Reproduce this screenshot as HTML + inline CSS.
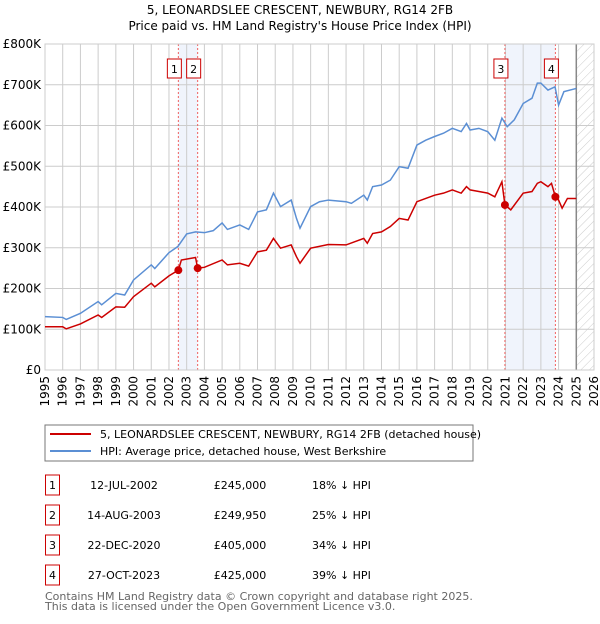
<!DOCTYPE html>
<html><head><meta charset="utf-8"><style>
body{margin:0;background:#fff;font-family:"DejaVu Sans","Liberation Sans",sans-serif;}
svg text{font-family:"DejaVu Sans","Liberation Sans",sans-serif;}
</style></head><body>
<svg id="c" width="600" height="620" xmlns="http://www.w3.org/2000/svg">
<defs><pattern id="hatch" width="6" height="6" patternUnits="userSpaceOnUse" patternTransform="rotate(45)"><line x1="0" y1="0" x2="0" y2="6" stroke="#ccc" stroke-width="1"/></pattern></defs>
<text x="300" y="14" text-anchor="middle" font-size="12">5, LEONARDSLEE CRESCENT, NEWBURY, RG14 2FB</text>
<text x="300" y="30" text-anchor="middle" font-size="12">Price paid vs. HM Land Registry's House Price Index (HPI)</text>
<g id="grid"></g><g id="marks"></g>
<g>
<rect x="45" y="425" width="428" height="36" fill="#fff" stroke="#777"/>
<line x1="50" y1="434" x2="91" y2="434" stroke="#cc0000" stroke-width="2"/>
<text x="100" y="438" font-size="11">5, LEONARDSLEE CRESCENT, NEWBURY, RG14 2FB (detached house)</text>
<line x1="50" y1="451" x2="91" y2="451" stroke="#5b8fd4" stroke-width="2"/>
<text x="100" y="455" font-size="11">HPI: Average price, detached house, West Berkshire</text>
</g>
<g id="table" font-size="11"></g>
<text x="45" y="600" font-size="11" fill="#666">Contains HM Land Registry data © Crown copyright and database right 2025.</text>
<text x="45" y="610" font-size="11" fill="#666">This data is licensed under the Open Government Licence v3.0.</text>
</svg>
<script>
const hpiYears=[1995,1996,1996.2,1997,1998,1998.2,1999,1999.5,2000,2001,2001.2,2002,2002.5,2003,2003.5,2004,2004.5,2005,2005.3,2006,2006.5,2007,2007.5,2007.9,2008.3,2008.9,2009.2,2009.4,2010,2010.5,2011,2012,2012.3,2013,2013.2,2013.5,2014,2014.5,2015,2015.5,2016,2016.5,2017,2017.5,2018,2018.5,2018.8,2019,2019.5,2020,2020.4,2020.8,2021.1,2021.5,2022,2022.5,2022.8,2023,2023.4,2023.8,2024,2024.3,2025];
const hpiValues=[131,129,124,139,168,160,188,184,221,258,249,288,303,334,339,337,342,361,345,356,345,388,393,434,401,417,372,348,401,413,417,413,409,429,417,450,454,466,499,495,552,564,573,581,593,585,605,589,593,585,564,618,597,614,654,667,704,704,687,695,650,683,691];
const ppYears=[1995,1996,1996.2,1997,1998,1998.2,1999,1999.5,2000,2001,2001.2,2002,2002.53,2002.7,2003.5,2003.62,2004,2005,2005.3,2006,2006.5,2007,2007.5,2007.9,2008.3,2008.9,2009.2,2009.4,2010,2011,2012,2013,2013.2,2013.5,2014,2014.5,2015,2015.5,2016,2016.5,2017,2017.5,2018,2018.5,2018.8,2019,2019.5,2020,2020.4,2020.8,2020.97,2021.3,2022,2022.5,2022.8,2023,2023.4,2023.6,2023.82,2024,2024.2,2024.5,2025];
const ppValues=[106,106,101,113,135,129,155,154,180,213,204,231,245,270,276,250,252,270,258,262,255,290,294,323,299,307,278,262,299,308,307,323,311,335,339,352,372,368,413,421,429,434,442,434,450,442,438,434,425,462,405,393,434,438,458,462,450,458,425,417,397,421,421];
const saleYears=[2002.53,2003.62,2020.97,2023.82];
const saleValues=[245,249.95,405,425];
const saleLabels=["1","2","3","4"];
const saleDates=["12-JUL-2002","14-AUG-2003","22-DEC-2020","27-OCT-2023"];
const salePrices=["£245,000","£249,950","£405,000","£425,000"];
const saleDiffs=["18% ↓ HPI","25% ↓ HPI","34% ↓ HPI","39% ↓ HPI"];
const yTicks=[0,100,200,300,400,500,600,700,800];
const yTickLabels=["£0","£100K","£200K","£300K","£400K","£500K","£600K","£700K","£800K"];
const xTicks=[1995,1996,1997,1998,1999,2000,2001,2002,2003,2004,2005,2006,2007,2008,2009,2010,2011,2012,2013,2014,2015,2016,2017,2018,2019,2020,2021,2022,2023,2024,2025,2026];
const X0=45,X1=594,Y0=370,Y1=44;
const sx=y=>X0+(y-1995)/(2026-1995)*(X1-X0);
const sy=v=>Y0-v/800*(Y0-Y1);
const NS="http://www.w3.org/2000/svg";
function mk(tag,attrs,parent,txt){const e=document.createElementNS(NS,tag);for(const k in attrs)e.setAttribute(k,attrs[k]);if(txt!==undefined)e.textContent=txt;parent.appendChild(e);return e;}
const grid=document.getElementById('grid'),marks=document.getElementById('marks'),table=document.getElementById('table');
[[0,1],[2,3]].forEach(p=>{const r=mk('rect',{x:sx(saleYears[p[0]]),y:Y1,width:sx(saleYears[p[1]])-sx(saleYears[p[0]]),height:Y0-Y1,fill:'#f0f4fc'},grid);

});
const hr=mk('rect',{x:sx(2025),y:Y1,width:sx(2026)-sx(2025),height:Y0-Y1,fill:'url(#hatch)'},grid);


yTicks.forEach((t,i)=>{mk('line',{x1:X0,x2:X1,y1:sy(t),y2:sy(t),stroke:'#ccc'},grid);
const tx=mk('text',{x:X0-4,y:sy(t)+4,'text-anchor':'end','font-size':'12'},grid,yTickLabels[i]);

});
xTicks.forEach(t=>{mk('line',{x1:sx(t),x2:sx(t),y1:Y1,y2:Y0,stroke:'#ccc'},grid);
const tx=mk('text',{x:0,y:0,'text-anchor':'end','font-size':'12',transform:`translate(${sx(t)+4},${Y0+6}) rotate(-90)`},grid,String(t));

});
mk('line',{x1:sx(2025),x2:sx(2025),y1:Y1,y2:Y0,stroke:'#888','stroke-width':1.5},grid);
saleYears.forEach((y,i)=>{mk('line',{x1:sx(y),x2:sx(y),y1:Y1,y2:Y0,stroke:'#f06060','stroke-dasharray':'2,2'},grid);});
const hp=mk('polyline',{points:hpiYears.map((y,i)=>sx(y)+','+sy(hpiValues[i])).join(' '),fill:'none',stroke:'#5b8fd4','stroke-width':1.5},marks);


const pl=mk('polyline',{points:ppYears.map((y,i)=>sx(y)+','+sy(ppValues[i])).join(' '),fill:'none',stroke:'#cc0000','stroke-width':1.5},marks);


saleYears.forEach((y,i)=>{const c=mk('circle',{cx:sx(y),cy:sy(saleValues[i]),r:4,fill:'#cc0000'},marks);


const off=-4;
const g=mk('g',{},marks);


mk('rect',{x:sx(y)+off-7,y:59,width:14,height:19,fill:'#fff',stroke:'#cc0000'},g);
mk('text',{x:sx(y)+off,y:73,'text-anchor':'middle','font-size':'11'},g,saleLabels[i]);
const ry=475+i*30;
const row=mk('g',{},table);


mk('rect',{x:45.5,y:ry,width:14,height:20,fill:'#fff',stroke:'#cc0000'},row);
mk('text',{x:52.5,y:ry+14,'text-anchor':'middle'},row,saleLabels[i]);
mk('text',{x:124,y:ry+14,'text-anchor':'middle'},row,saleDates[i]);
mk('text',{x:240,y:ry+14,'text-anchor':'middle'},row,salePrices[i]);
mk('text',{x:312,y:ry+14},row,saleDiffs[i]);});
mk('rect',{x:X0,y:Y1,width:X1-X0,height:Y0-Y1,fill:'none',stroke:'#ccc'},grid);
</script>
</body></html>
